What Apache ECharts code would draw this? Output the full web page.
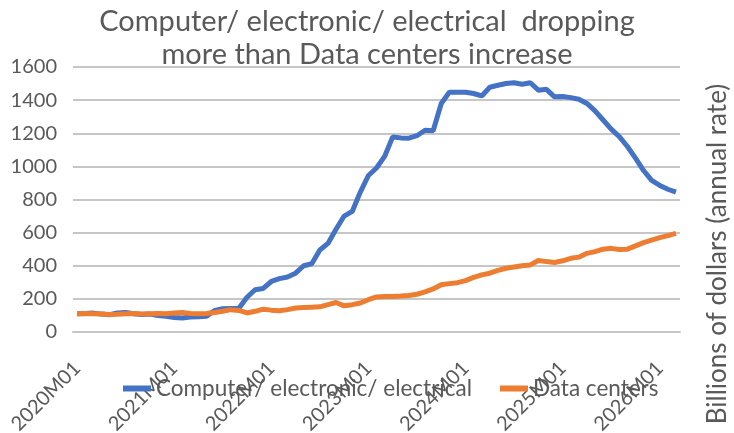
<!DOCTYPE html>
<html>
<head>
<meta charset="utf-8">
<script src="https://cdn.jsdelivr.net/npm/echarts@6/dist/echarts.min.js"></script>
<style>
html,body{margin:0;padding:0;background:#fff;}
#chart{width:734px;height:433px;}
</style>
</head>
<body>
<div id="chart"></div>
<script>
// Categories: monthly 2020M01 .. 2026M03
const categories = [];
for (let y = 2020; y <= 2026; y++) {
  for (let m = 1; m <= 12; m++) {
    if (y === 2026 && m > 3) break;
    categories.push(y + 'M' + (m < 10 ? '0' + m : m));
  }
}

const computerElectronicElectrical = [
  110, 112, 114, 108, 104, 115, 118, 110, 106, 108, 100, 95,
  88, 85, 90, 92, 95, 130, 140, 142, 143, 210, 255, 263,
  305, 322, 332, 355, 400, 412, 495, 535, 620, 700, 728, 845,
  945, 990, 1060, 1178, 1172, 1170, 1185, 1218, 1215, 1380, 1448, 1448,
  1448, 1440, 1425, 1478, 1490, 1500, 1505, 1496, 1505, 1460, 1465, 1420,
  1422, 1415, 1405, 1380, 1335, 1280, 1225, 1180, 1120, 1050, 975, 915,
  885, 862, 844
];

const dataCenters = [
  110, 112, 110, 108, 105, 107, 110, 112, 108, 110, 112, 110,
  115, 118, 112, 110, 112, 118, 125, 135, 130, 115, 125, 138,
  132, 128, 135, 145, 148, 150, 152, 165, 178, 158, 165, 175,
  195, 212, 215, 215, 217, 220, 228, 242, 260, 285, 292, 298,
  310, 330, 345, 355, 372, 385, 392, 400, 405, 432, 425, 420,
  430, 445, 452, 475, 485, 500, 505, 498, 500, 520, 540, 555,
  570, 582, 595
];

const seriesNames = ['Computer/ electronic/ electrical', 'Data centers'];
const titleText = 'Computer/ electronic/ electrical  dropping\nmore than Data centers increase';
const yAxisTitle = 'Billions of dollars (annual rate)';

const FONT = 'Lato, "Open Sans", sans-serif';
const chart = echarts.init(document.getElementById('chart'), null, {renderer: 'canvas'});
chart.setOption({
  animation: false,
  backgroundColor: '#ffffff',
  title: {
    text: titleText,
    left: 'center',
    top: 0,
    textStyle: {fontFamily: FONT, fontSize: 29, fontWeight: 'normal', color: '#595959', lineHeight: 33}
  },
  legend: {
    left: 118,
    top: 372,
    itemWidth: 28,
    itemHeight: 6,
    itemGap: 28,
    icon: 'rect',
    textStyle: {fontFamily: FONT, fontSize: 22.5, color: '#595959'},
    data: seriesNames
  },
  grid: {left: 73, right: 54, top: 67, bottom: 101, containLabel: false, outerBoundsMode: 'none'},
  xAxis: {
    type: 'category',
    data: categories,
    boundaryGap: true,
    axisLine: {show: true, lineStyle: {color: '#c6c6c6', width: 2}},
    axisTick: {show: false},
    axisLabel: {interval: 11, rotate: 45, margin: 33, fontFamily: FONT, fontSize: 20, color: '#595959'}
  },
  yAxis: {
    type: 'value',
    min: 0, max: 1600, interval: 200,
    axisLine: {show: false},
    axisTick: {show: false},
    axisLabel: {margin: 16, fontFamily: FONT, fontSize: 20, color: '#595959', formatter: function (v) { return String(v); }},
    splitLine: {show: true, lineStyle: {color: '#c6c6c6', width: 2}}
  },
  graphic: [{
    type: 'text',
    x: 718, y: 254,
    rotation: Math.PI / 2,
    style: {text: yAxisTitle, fontFamily: FONT, fontSize: 26, fill: '#595959', align: 'center', verticalAlign: 'middle'}
  }],
  series: [
    {name: seriesNames[0], type: 'line', data: computerElectronicElectrical, symbol: 'none',
     lineStyle: {color: '#4472C4', width: 5}, itemStyle: {color: '#4472C4'}},
    {name: seriesNames[1], type: 'line', data: dataCenters, symbol: 'none',
     lineStyle: {color: '#ED7D31', width: 5}, itemStyle: {color: '#ED7D31'}}
  ]
});
</script>
</body>
</html>
